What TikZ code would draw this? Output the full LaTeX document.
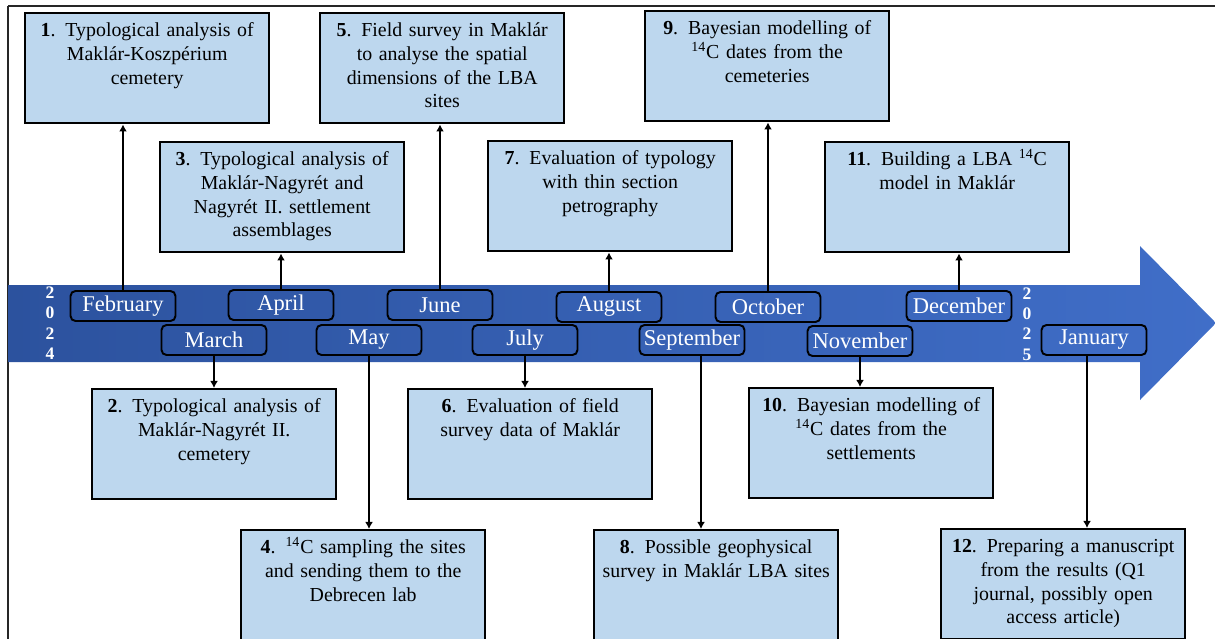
\documentclass[tikz,border=0pt]{standalone}
\usepackage{fontspec}
\setmainfont{Liberation Serif}
\usetikzlibrary{arrows.meta}
\definecolor{taskblue}{RGB}{189,215,238}
\definecolor{banddark}{RGB}{44,82,158}
\definecolor{bandlight}{RGB}{64,110,200}

\begin{document}
\begin{tikzpicture}[
    x=0.02cm, y=-0.02cm,
    >={Latex[length=4pt,width=4.5pt]},
    task/.style={rectangle, draw=black, line width=1.4pt, fill=taskblue, anchor=north west, align=center, text width=4.72cm, inner xsep=0.08cm, inner ysep=0pt, text height=0.46cm, text depth=1.74cm, font=\fontsize{11.3}{13.6}\selectfont},
    month/.style={rectangle, rounded corners=0.1cm, draw=black, line width=1.1pt, text=white, minimum width=2.1cm, minimum height=0.6cm, inner sep=0pt, font=\fontsize{12.8}{14}\selectfont},
    year/.style={text=white, align=center, inner sep=0pt, font=\bfseries\fontsize{10}{11.6}\selectfont},
    link/.style={->, line width=1.1pt}
  ]
    \useasboundingbox (0,0) rectangle (1215,639);
    \draw[line width=1pt, black!85] (8,6) -- (1300,6) (8,6) -- (8,700);
    \shade[left color=banddark, right color=bandlight] (8,285) -- (1140,285) -- (1140,246) -- (1216,323) -- (1140,400) -- (1140,362) -- (8,362) -- cycle;

    \node[task] (t1) at (24,12) {\textbf{1}. Typological analysis of\\Maklár-Koszpérium\\cemetery};
    \node[task] (t5) at (319,12) {\textbf{5}. Field survey in Maklár\\to analyse the spatial\\dimensions of the LBA\\sites};
    \node[task] (t9) at (644,10) {\textbf{9}. Bayesian modelling of\\\textsuperscript{14}C dates from the\\cemeteries};
    \node[task] (t3) at (159,141) {\textbf{3}. Typological analysis of\\Maklár-Nagyrét and\\Nagyrét II. settlement\\assemblages};
    \node[task] (t7) at (487,140) {\textbf{7}. Evaluation of typology\\with thin section\\petrography};
    \node[task] (t11) at (824,141) {\textbf{11}. Building a LBA \textsuperscript{14}C\\model in Maklár};
    \node[task] (t2) at (91,388) {\textbf{2}. Typological analysis of\\Maklár-Nagyrét II.\\cemetery};
    \node[task] (t6) at (407,388) {\textbf{6}. Evaluation of field\\survey data of Maklár};
    \node[task] (t10) at (748,387) {\textbf{10}. Bayesian modelling of\\\textsuperscript{14}C dates from the\\settlements};
    \node[task] (t4) at (240,529) {\textbf{4}. \textsuperscript{14}C sampling the sites\\and sending them to the\\Debrecen lab};
    \node[task] (t8) at (593,529) {\textbf{8}. Possible geophysical\\survey in Maklár LBA sites};
    \node[task] (t12) at (940,528) {\textbf{12}. Preparing a manuscript\\from the results (Q1\\journal, possibly open\\access article)};

    \node[month] (feb) at (123,306) {February};
    \node[month] (apr) at (281,305) {April};
    \node[month] (jun) at (440,305) {June};
    \node[month] (aug) at (609,307) {August};
    \node[month] (oct) at (768,307) {October};
    \node[month] (dec) at (959,306) {December};
    \node[month] (mar) at (214,340) {March};
    \node[month] (may) at (369,340) {May};
    \node[month] (jul) at (525,340) {July};
    \node[month] (sep) at (692,340) {September};
    \node[month] (nov) at (860,341) {November};
    \node[month] (jan) at (1094,340) {January};

    \node[year] (y24) at (50,323) {2\\0\\2\\4};
    \node[year] (y25) at (1027,324) {2\\0\\2\\5};

    \draw[link] (feb.north) -- (feb.north |- t1.south);
    \draw[link] (apr.north) -- (apr.north |- t3.south);
    \draw[link] (jun.north) -- (jun.north |- t5.south);
    \draw[link] (aug.north) -- (aug.north |- t7.south);
    \draw[link] (oct.north) -- (oct.north |- t9.south);
    \draw[link] (dec.north) -- (dec.north |- t11.south);
    \draw[link] (mar.south) -- (mar.south |- t2.north);
    \draw[link] (may.south) -- (may.south |- t4.north);
    \draw[link] (jul.south) -- (jul.south |- t6.north);
    \draw[link] ([xshift=0.18cm]sep.south) -- ([xshift=0.18cm]sep.south |- t8.north);
    \draw[link] (nov.south) -- (nov.south |- t10.north);
    \draw[link] ([xshift=-0.14cm]jan.south) -- ([xshift=-0.14cm]jan.south |- t12.north);
  \end{tikzpicture}
\end{document}
